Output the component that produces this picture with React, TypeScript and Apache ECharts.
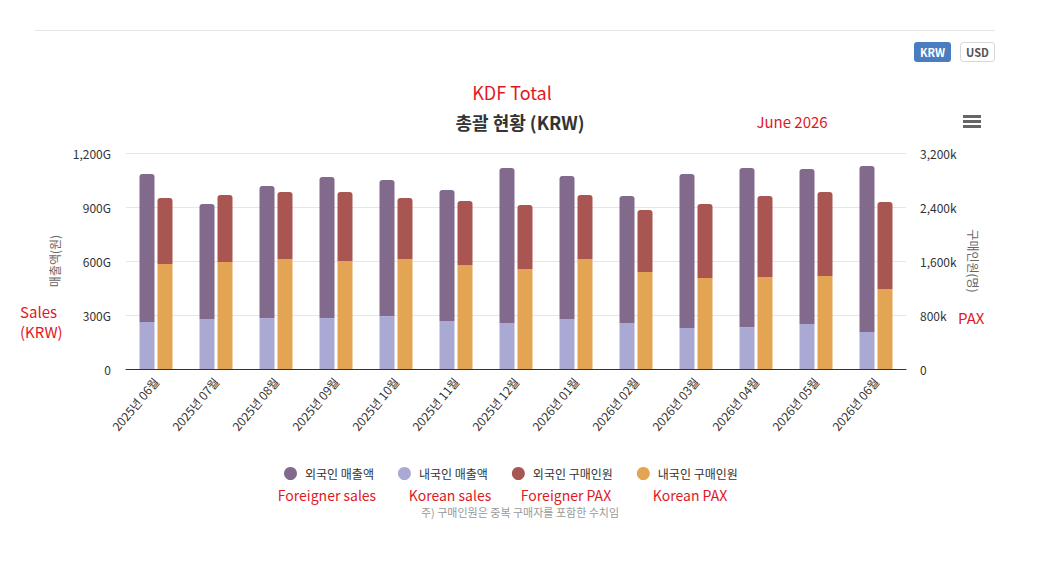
import React, { useEffect, useRef } from 'react';
import * as echarts from 'echarts';

const months = [
  '2025년 06월', '2025년 07월', '2025년 08월', '2025년 09월', '2025년 10월', '2025년 11월', '2025년 12월',
  '2026년 01월', '2026년 02월', '2026년 03월', '2026년 04월', '2026년 05월', '2026년 06월',
];

// 매출액 (G원)
const koreanSales = [261, 278, 283, 283, 294, 267, 256, 278, 256, 228, 233, 250, 206];
const foreignSales = [822, 639, 734, 784, 756, 727, 861, 794, 705, 855, 884, 861, 922];

// 구매인원 (k명)
const koreanPax = [1556, 1585, 1630, 1600, 1630, 1541, 1481, 1630, 1437, 1348, 1363, 1378, 1185];
const foreignPax = [977, 993, 992, 1022, 903, 948, 949, 948, 919, 1096, 1200, 1244, 1289];

const legendNames = ['외국인 매출액', '내국인 매출액', '외국인 구매인원', '내국인 구매인원'];
const colors = ['#816a8c', '#a9a9d4', '#a95552', '#e3a453'];

const FONT = '"Noto Sans CJK KR", "Noto Sans", sans-serif';

const App: React.FC = () => {
  const chartRef = useRef<HTMLDivElement>(null);

  useEffect(() => {
    if (!chartRef.current) return;
    const chart = echarts.init(chartRef.current, undefined, { renderer: 'svg' });

    const red = '#e0191f';
    const option = {
      animation: false,
      textStyle: { fontFamily: FONT },
      color: colors,
      title: [
        {
          text: '총괄 현황 (KRW)',
          left: 515,
          top: 108,
          textAlign: 'center',
          textStyle: { fontSize: 18, fontWeight: 'bold', color: '#333', fontFamily: FONT },
        },
      ],
      legend: {
        data: legendNames,
        top: 462,
        left: 279,
        icon: 'circle',
        itemWidth: 13,
        itemHeight: 13,
        itemGap: 24,
        textStyle: { fontSize: 12, color: '#333', fontFamily: FONT, padding: [0, 0, 0, 3] },
      },
      grid: { left: 126, right: 151, top: 153, bottom: 207 },
      xAxis: {
        type: 'category',
        data: months,
        axisLine: { lineStyle: { color: '#333' } },
        axisTick: { show: false },
        axisLabel: { rotate: 50, fontSize: 12, color: '#333', margin: 10, interval: 0 },
      },
      yAxis: [
        {
          type: 'value',
          min: 0,
          max: 1200,
          interval: 300,
          name: '매출액(원)',
          nameLocation: 'middle',
          nameGap: 66,
          nameRotate: 90,
          nameTextStyle: { color: '#666', fontSize: 12 },
          axisLabel: {
            color: '#333',
            fontSize: 12,
            margin: 15,
            formatter: (v: number) => (v === 0 ? '0' : v.toLocaleString('en-US') + 'G'),
          },
          splitLine: { lineStyle: { color: '#e6e6e6' } },
        },
        {
          type: 'value',
          min: 0,
          max: 3200,
          interval: 800,
          name: '구매인원(명)',
          nameLocation: 'middle',
          nameGap: 60,
          nameRotate: -90,
          nameTextStyle: { color: '#666', fontSize: 12 },
          axisLabel: {
            color: '#333',
            fontSize: 12,
            margin: 14,
            formatter: (v: number) => (v === 0 ? '0' : v.toLocaleString('en-US') + 'k'),
          },
          splitLine: { show: false },
        },
      ],
      series: [
        {
          name: '내국인 매출액',
          type: 'bar',
          stack: 'sales',
          yAxisIndex: 0,
          barWidth: 15,
          barGap: '20%',
          itemStyle: { color: colors[1] },
          data: koreanSales,
        },
        {
          name: '외국인 매출액',
          type: 'bar',
          stack: 'sales',
          yAxisIndex: 0,
          barWidth: 15,
          barGap: '20%',
          itemStyle: { color: colors[0], borderRadius: [3, 3, 0, 0] },
          data: foreignSales,
        },
        {
          name: '내국인 구매인원',
          type: 'bar',
          stack: 'pax',
          yAxisIndex: 1,
          barWidth: 15,
          barGap: '20%',
          itemStyle: { color: colors[3] },
          data: koreanPax,
        },
        {
          name: '외국인 구매인원',
          type: 'bar',
          stack: 'pax',
          yAxisIndex: 1,
          barWidth: 15,
          barGap: '20%',
          itemStyle: { color: colors[2], borderRadius: [3, 3, 0, 0] },
          data: foreignPax,
        },
      ],
      graphic: [
        { type: 'line', shape: { x1: 35, y1: 30.5, x2: 995, y2: 30.5 }, style: { stroke: '#e6e6e6', lineWidth: 1 } },
        { type: 'rect', shape: { x: 914, y: 42, width: 37, height: 20, r: 3 }, style: { fill: '#4a7dc0' } },
        {
          type: 'text', x: 932.5, y: 52,
          style: { text: 'KRW', fill: '#fff', font: `bold 11px ${FONT}`, align: 'center', verticalAlign: 'middle' },
        },
        { type: 'rect', shape: { x: 960.5, y: 42.5, width: 34, height: 19, r: 3 }, style: { fill: '#fff', stroke: '#d6d6d6', lineWidth: 1 } },
        {
          type: 'text', x: 977.5, y: 52,
          style: { text: 'USD', fill: '#555', font: `bold 11px ${FONT}`, align: 'center', verticalAlign: 'middle' },
        },
        { type: 'rect', shape: { x: 963, y: 115, width: 18, height: 3 }, style: { fill: '#666' } },
        { type: 'rect', shape: { x: 963, y: 120, width: 18, height: 3 }, style: { fill: '#666' } },
        { type: 'rect', shape: { x: 963, y: 125, width: 18, height: 3 }, style: { fill: '#666' } },
        {
          type: 'text', x: 512, y: 92,
          style: { text: 'KDF Total', fill: red, font: `18px ${FONT}`, align: 'center', verticalAlign: 'middle' },
        },
        {
          type: 'text', x: 792, y: 121,
          style: { text: 'June 2026', fill: red, font: `15px ${FONT}`, align: 'center', verticalAlign: 'middle' },
        },
        {
          type: 'text', x: 20, y: 301,
          style: { text: 'Sales\n(KRW)', fill: red, font: `15px ${FONT}`, lineHeight: 20, align: 'left', verticalAlign: 'top' },
        },
        {
          type: 'text', x: 958, y: 317,
          style: { text: 'PAX', fill: red, font: `15px ${FONT}`, align: 'left', verticalAlign: 'middle' },
        },
        {
          type: 'text', x: 327, y: 495,
          style: { text: 'Foreigner sales', fill: red, font: `14px ${FONT}`, align: 'center', verticalAlign: 'middle' },
        },
        {
          type: 'text', x: 450, y: 495,
          style: { text: 'Korean sales', fill: red, font: `14px ${FONT}`, align: 'center', verticalAlign: 'middle' },
        },
        {
          type: 'text', x: 566, y: 495,
          style: { text: 'Foreigner PAX', fill: red, font: `14px ${FONT}`, align: 'center', verticalAlign: 'middle' },
        },
        {
          type: 'text', x: 690, y: 495,
          style: { text: 'Korean PAX', fill: red, font: `14px ${FONT}`, align: 'center', verticalAlign: 'middle' },
        },
        {
          type: 'text', x: 520, y: 512,
          style: { text: '주) 구매인원은 중복 구매자를 포함한 수치임', fill: '#999', font: `11px ${FONT}`, align: 'center', verticalAlign: 'middle' },
        },
      ],
    };

    chart.setOption(option);
    return () => {
      chart.dispose();
    };
  }, []);

  return (
    <div
      ref={chartRef}
      style={{ position: 'fixed', left: 0, top: 0, width: 1057, height: 576, background: '#fff' }}
    />
  );
};

export default App;
